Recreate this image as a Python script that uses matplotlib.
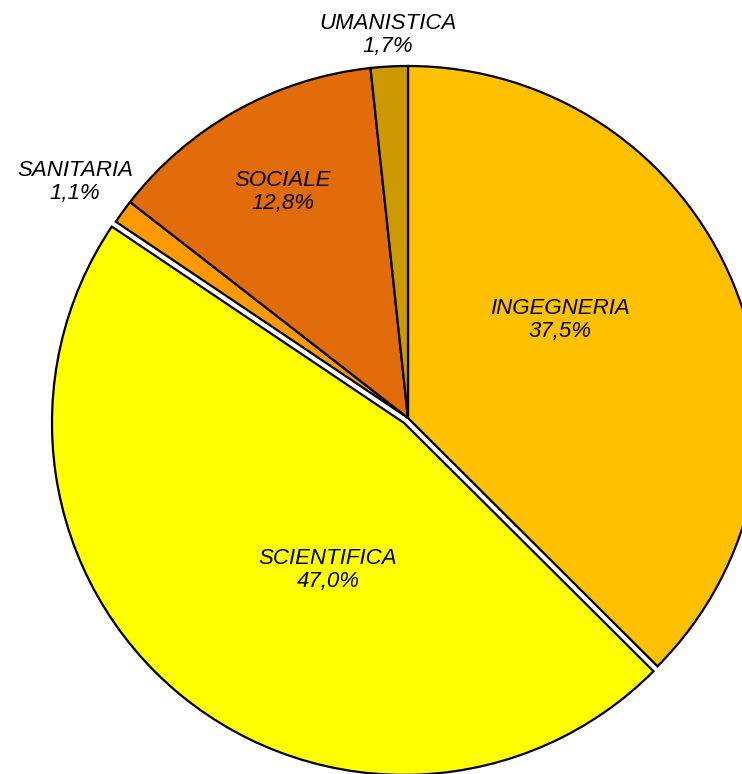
import matplotlib
matplotlib.use("Agg")
import matplotlib.pyplot as plt

# data
categories = ["INGEGNERIA", "SCIENTIFICA", "SANITARIA", "SOCIALE", "UMANISTICA"]
shares = [37.5, 47.0, 1.1, 12.8, 1.7]
share_text = ["37,5%", "47,0%", "1,1%", "12,8%", "1,7%"]
colors = ["#FFC000", "#FFFF00", "#FF9900", "#E36C0A", "#CC9900"]
explode = [0, 0.018, 0, 0, 0]

# label positions (in units of the radius)
label_pos = [(0.432, 0.278), (-0.227, -0.432), (-0.946, 0.670),
             (-0.355, 0.642), (-0.057, 1.088)]

plt.rcParams['font.family'] = ['Liberation Sans', 'DejaVu Sans']

fig = plt.figure(figsize=(7.42, 7.74), dpi=100)
ax = fig.add_axes([0, 0, 1, 1])

r = 352.0
cx, cy = 408.0, 418.0

ax.pie(shares, colors=colors, explode=explode, startangle=90, counterclock=False,
       radius=1.0, wedgeprops=dict(edgecolor='black', linewidth=1.6))

for name, pct, (x, y) in zip(categories, share_text, label_pos):
    ax.text(x, y, f"{name}\n{pct}", ha='center', va='center', fontsize=16,
            style='italic', linespacing=1.1, color='black')

ax.set_xlim(-cx / r, (742 - cx) / r)
ax.set_ylim((cy - 774) / r, cy / r)
ax.set_aspect('equal')
ax.axis('off')

fig.savefig("out.png", dpi=100)
